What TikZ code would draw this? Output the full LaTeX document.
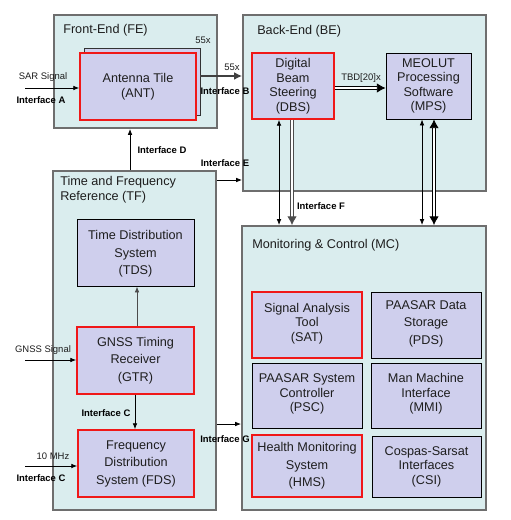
\documentclass[tikz,border=0pt]{standalone}
\usepackage{fontspec}
\setmainfont{Liberation Sans}
\usetikzlibrary{arrows.meta,fit,positioning}
\definecolor{contfill}{HTML}{DAEDEE}
\definecolor{contdraw}{HTML}{6E6E6E}
\definecolor{boxfill}{HTML}{CFCFED}
\definecolor{redb}{HTML}{F01818}
\definecolor{txt}{HTML}{1E1E1E}
\tikzset{
  cont/.style={draw=contdraw, line width=1.4pt, fill=contfill, inner sep=0pt},
  blk/.style={draw=black, line width=0.65pt, fill=boxfill, inner sep=0pt},
  redblk/.style={blk, draw=redb, line width=1.1pt},
  btxt/.style={align=center, inner sep=0pt, text=txt},
  sp/.style={font=\fontsize{9.5}{10.9}\selectfont},
  wp/.style={font=\fontsize{9.5}{13.1}\selectfont},
  ttl/.style={anchor=west, inner sep=0pt, text=txt, font=\fontsize{9.5}{11.5}\selectfont, align=left},
  lbl/.style={inner sep=0pt, text=txt, font=\fontsize{7.1}{8}\selectfont},
  iflbl/.style={inner sep=0pt, text=black, font=\bfseries\fontsize{7.1}{8}\selectfont},
  arr/.style={draw=black, line width=0.6pt, -{Latex[length=4.5pt,width=3.5pt]}},
  tarr/.style={draw=black, line width=0.6pt, {Latex[length=4.5pt,width=3.5pt]}-{Latex[length=4.5pt,width=3.5pt]}},
  dblarr/.style={draw=black, double=white, double distance=1.6pt, line width=0.6pt, -{Latex[length=6.5pt,width=7pt]}},
  dbl2arr/.style={draw=black, double=white, double distance=1.6pt, line width=0.6pt, {Latex[length=6.5pt,width=7pt]}-{Latex[length=6.5pt,width=7pt]}},
}
\begin{document}
\begin{tikzpicture}[x=0.75pt,y=-0.75pt]
\useasboundingbox[fill=white] (0,0) rectangle (510,520);
% containers
\node[cont, fit={(54,15) (217,128)}] (fe) {};
\node[cont, fit={(243,15) (486,191)}] (be) {};
\node[cont, fit={(53,171) (216,510)}] (tf) {};
\node[cont, fit={(242,226) (486,510)}] (mc) {};
\node[ttl] (fet) at (63,30) {Front-End (FE)};
\node[ttl] (bet) at (257,31) {Back-End (BE)};
\node[ttl] (tft) at (60,190) {Time and Frequency\\Reference (TF)};
\node[ttl] (mct) at (252,245) {Monitoring \& Control (MC)};
% front-end
\node[blk, draw=black!80, line width=0.6pt, fit={(84,48) (200,115)}] (antback) {};
\node[redblk, fit={(80,53) (196,120)}] (ant) {};
\node[btxt, font=\fontsize{9.5}{11.2}\selectfont] (antt) at (ant.center) {Antenna Tile\\(ANT)};
\node[lbl] (n55a) at (203,40) {55x};
% back-end
\node[redblk, fit={(252,53) (334,119)}] (dbs) {};
\node[btxt, sp] (dbst) at (dbs.center) {Digital\\Beam\\Steering\\(DBS)};
\node[blk, fit={(386,53) (471,119)}] (mps) {};
\node[btxt, sp] (mpst) at (mps.center) {MEOLUT\\Processing\\Software\\(MPS)};
% time & frequency
\node[blk, fit={(77,219) (194,286)}] (tds) {};
\node[btxt, wp] (tdst) at ([yshift=-1pt]tds.center) {Time Distribution\\System\\(TDS)};
\node[redblk, fit={(77,327) (194,394)}] (gtr) {};
\node[btxt, wp] (gtrt) at (gtr.center) {GNSS Timing\\Receiver\\(GTR)};
\node[redblk, fit={(78,430) (194,497)}] (fds) {};
\node[btxt, wp] (fdst) at (fds.center) {Frequency\\Distribution\\System (FDS)};
% monitoring & control
\node[redblk, fit={(252,292) (362,358)}] (sat) {};
\node[btxt, sp] (satt) at ([yshift=1pt]sat.center) {Signal Analysis\\Tool\\(SAT)};
\node[blk, fit={(371,292) (481,358)}] (pds) {};
\node[btxt, wp] (pdst) at ([yshift=1pt]pds.center) {PAASAR Data\\Storage\\(PDS)};
\node[blk, fit={(252,363) (362,428)}] (psc) {};
\node[btxt, sp] (psct) at ([yshift=1pt]psc.center) {PAASAR System\\Controller\\(PSC)};
\node[blk, fit={(371,363) (481,428)}] (mmi) {};
\node[btxt, sp] (mmit) at ([yshift=1pt]mmi.center) {Man Machine\\Interface\\(MMI)};
\node[redblk, fit={(252,435) (362,497)}] (hms) {};
\node[btxt, wp] (hmst) at (hms.center) {Health Monitoring\\System\\(HMS)};
\node[blk, fit={(372,436) (481,497)}] (csi) {};
\node[btxt, sp] (csit) at (csi.center) {Cospas-Sarsat\\Interfaces\\(CSI)};
% external inputs
\coordinate (sarin) at (25,88);
\coordinate (gnssin) at (25,360);
\coordinate (mhzin) at (25,466);
\draw[arr] (sarin) -- (ant.west |- sarin);
\draw[arr] (gnssin) -- (gtr.west |- gnssin);
\draw[arr] (mhzin) -- (fds.west |- mhzin);
\node[lbl] (sarl) at (43,77) {SAR Signal};
\node[iflbl] (ifa) at (41,100) {Interface A};
\node[lbl] (gnssl) at (43,350) {GNSS Signal};
\node[lbl] (mhzl) at (53,456) {10 MHz};
\node[iflbl] (ifc2) at (41,478) {Interface C};
% ANT -> BE
\coordinate (antout) at (200,76);
\draw[draw=black!75, line width=1.6pt, -{Latex[length=6pt,width=6pt]}] (antout) -- (be.west |- antout);
\node[lbl] (n55b) at (232,67) {55x};
\node[iflbl] (ifb) at (225,91) {Interface B};
% TF -> FE (Interface D)
\coordinate (dx) at (130,0);
\draw[arr] (tf.north -| dx) -- (fe.south -| dx);
\node[iflbl] (ifd) at (162,150) {Interface D};
% TF -> BE (Interface E)
\coordinate (ey) at (0,180);
\draw[arr] (tf.east |- ey) -- (be.west |- ey);
\node[iflbl] (ife) at (225,163) {Interface E};
% DBS -> MPS
\coordinate (ty) at (0,88);
\draw[dblarr] (dbs.east |- ty) -- (mps.west |- ty);
\node[lbl] (tbd) at (361,78) {TBD[20]x};
% BE <-> MC
\coordinate (x1) at (279,0);
\coordinate (x2) at (292,0);
\coordinate (x3) at (422,0);
\coordinate (x4) at (434,0);
\draw[tarr] (dbs.south -| x1) -- (mc.north -| x1);
\draw[dblarr, draw=black!70] (dbs.south -| x2) -- (mc.north -| x2);
\draw[tarr] (mps.south -| x3) -- (mc.north -| x3);
\draw[dbl2arr] (mps.south -| x4) -- (mc.north -| x4);
\node[iflbl] (iff) at (321,206) {Interface F};
% inside TF
\coordinate (gx) at (137,0);
\draw[arr, draw=black!70] (gtr.north -| gx) -- (tds.south -| gx);
\coordinate (fx) at (135,0);
\draw[arr] (gtr.south -| fx) -- (fds.north -| fx);
\node[iflbl] (ifc) at (106,413) {Interface C};
% TF -> MC (Interface G)
\coordinate (gy) at (0,424);
\draw[arr] (tf.east |- gy) -- (mc.west |- gy);
\node[iflbl] (ifg) at (225,439) {Interface G};
\end{tikzpicture}
\end{document}
